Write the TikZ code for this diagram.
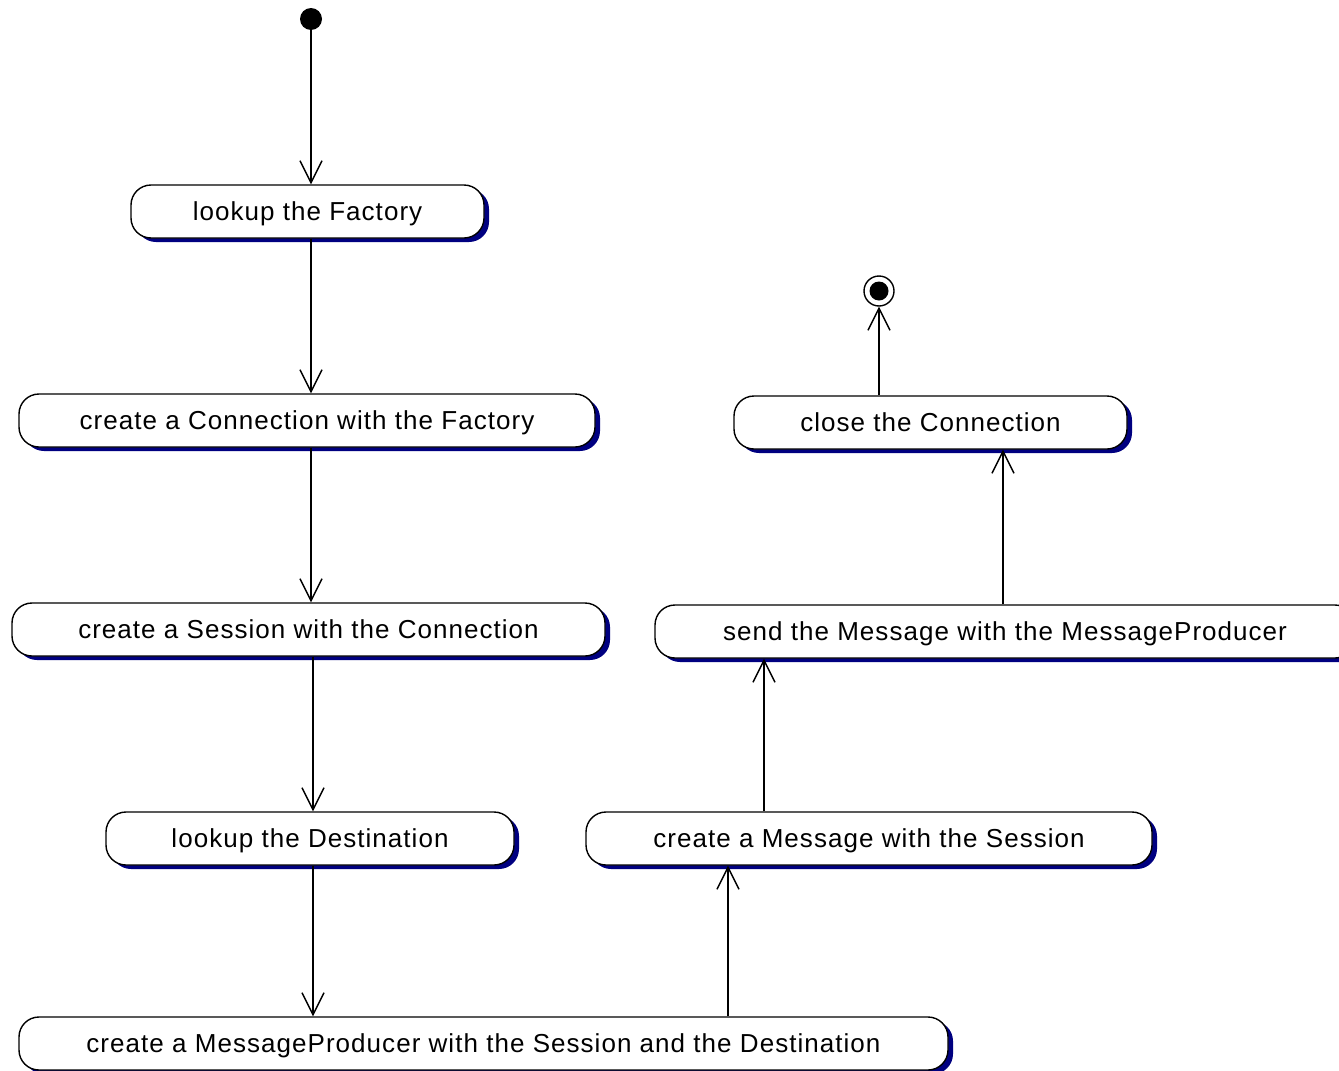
\documentclass[tikz,border=0pt]{standalone}
\usepackage{fontspec}
\setmainfont{Liberation Sans}
\usetikzlibrary{arrows.meta,shadows}
\definecolor{shadownavy}{RGB}{0,0,128}
\tikzset{
  activity/.style={draw=black, line width=1.4pt, fill=white, rounded corners=20pt,
    minimum height=53pt, inner sep=0pt, text height=19pt, text depth=1.5pt,
    font=\fontsize{26}{30}\selectfont\addfontfeature{LetterSpace=4},
    general shadow={fill=shadownavy, shadow xshift=5pt, shadow yshift=-4pt}},
  flow/.style={line width=1.4pt, -{Straight Barb[length=22pt,width=22pt,line width=1.4pt]}},
  startdot/.style={circle, fill=black, minimum size=22pt, inner sep=0pt},
  endring/.style={circle, draw=black, line width=1.4pt, fill=white, minimum size=30pt, inner sep=0pt},
  enddot/.style={circle, fill=black, minimum size=19pt, inner sep=0pt}
}
\begin{document}
\begin{tikzpicture}[x=1pt,y=-1pt]
\useasboundingbox (0,0) rectangle (1339,1071);
\clip (0,0) rectangle (1339,1071);
\fill[white] (0,0) rectangle (1339,1071);

% left column
\node[startdot] (start) at (311,19) {};
\node[activity, minimum width=353pt] (factory) at (307.5,211.5) {lookup the Factory};
\node[activity, minimum width=576pt] (connection) at (307,420.5) {create a Connection with the Factory};
\node[activity, minimum width=593pt] (session) at (308.5,629.5) {create a Session with the Connection};
\node[activity, minimum width=408pt] (destination) at (310,838.5) {lookup the Destination};
\node[activity, minimum width=929pt] (producer) at (483.5,1043.5) {create a MessageProducer with the Session and the Destination};

% right column
\node[activity, minimum width=566pt] (message) at (869,838.5) {create a Message with the Session};
\node[activity, minimum width=700pt] (send) at (1005,631.5) {send the Message with the MessageProducer};
\node[activity, minimum width=393pt] (close) at (930.5,422.5) {close the Connection};
\node[endring] (final) at (879,291) {};
\node[enddot] at (final) {};

% x positions of the vertical flows
\coordinate (xa) at (311,0);
\coordinate (xb) at (313,0);
\coordinate (xc) at (728,0);
\coordinate (xd) at (764,0);
\coordinate (xe) at (1003,0);

% control flow
\draw[flow] (start) -- (start |- factory.north);
\draw[flow] (factory.south -| xa) -- (connection.north -| xa);
\draw[flow] (connection.south -| xa) -- (session.north -| xa);
\draw[flow] (session.south -| xb) -- (destination.north -| xb);
\draw[flow] (destination.south -| xb) -- (producer.north -| xb);
\draw[flow] (producer.north -| xc) -- (message.south -| xc);
\draw[flow] (message.north -| xd) -- (send.south -| xd);
\draw[flow] (send.north -| xe) -- (close.south -| xe);
\draw[flow] (close.north -| final) -- (final);
\end{tikzpicture}
\end{document}
